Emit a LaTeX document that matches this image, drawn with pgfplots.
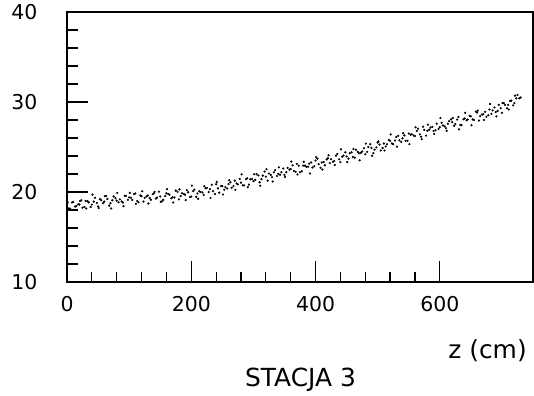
\documentclass[border=0pt]{standalone}
\usepackage{fontspec}
\setmainfont{DejaVu Sans}
\usepackage{pgfplots}
\pgfplotsset{compat=1.18}
\begin{document}
\begin{tikzpicture}
\useasboundingbox (0,0) rectangle (534bp,396bp);
\begin{axis}[
  at={(67bp,114bp)}, anchor=south west,
  scale only axis, width=466bp, height=270bp,
  xmin=0, xmax=750, ymin=10, ymax=40,
  xtick={0,200,400,600}, minor x tick num=4,
  ytick={10,20,30,40}, minor y tick num=4,
  xtick pos=bottom, ytick pos=left, tick align=inside,
  major tick length=21bp, minor tick length=10.5bp,
  axis line style={line width=1.3bp},
  every tick/.style={black, line width=1.2bp},
  every minor tick/.style={black, line width=1.2bp},
  /pgf/number format/assume math mode=true,
  tick label style={font=\fontsize{20.5}{24}\selectfont, inner sep=0pt},
  yticklabel style={anchor=east, xshift=-29.5bp},
  xticklabel style={anchor=north, yshift=-14.5bp},
  clip=false,
]
\addplot[only marks, mark=*, mark size=0.9bp, black, mark options={draw=none, fill=black}] coordinates {
(0,18.60) (5,18.15) (10,18.90) (15,18.45) (20,18.60) (25,18.25) (30,19.00) (35,18.85) (40,18.60) (45,19.35)
(50,18.40) (55,19.09) (60,18.93) (65,19.22) (70,18.76) (75,19.50) (80,19.04) (85,19.18) (90,18.82) (95,19.56)
(100,19.40) (105,19.12) (110,19.84) (115,18.86) (120,19.53) (125,19.35) (130,19.62) (135,19.14) (140,19.86) (145,19.38)
(150,19.50) (155,19.13) (160,19.86) (165,19.69) (170,19.42) (175,20.15) (180,19.18) (185,19.86) (190,19.69) (195,19.97)
(200,19.50) (205,20.27) (210,19.84) (215,20.01) (220,19.68) (225,20.45) (230,20.32) (235,20.09) (240,20.86) (245,19.93)
(250,20.65) (255,20.54) (260,20.88) (265,20.47) (270,21.26) (275,20.85) (280,21.04) (285,20.73) (290,21.52) (295,21.41)
(300,21.20) (305,21.99) (310,21.08) (315,21.82) (320,21.71) (325,22.05) (330,21.64) (335,22.43) (340,22.02) (345,22.21)
(350,21.90) (355,22.68) (360,22.56) (365,22.34) (370,23.12) (375,22.20) (380,22.93) (385,22.81) (390,23.14) (395,22.72)
(400,23.50) (405,23.09) (410,23.28) (415,22.97) (420,23.76) (425,23.65) (430,23.44) (435,24.23) (440,23.32) (445,24.06)
(450,23.95) (455,24.30) (460,23.90) (465,24.70) (470,24.30) (475,24.50) (480,24.20) (485,25.00) (490,24.90) (495,24.70)
(500,25.50) (505,24.62) (510,25.39) (515,25.31) (520,25.68) (525,25.30) (530,26.12) (535,25.74) (540,25.96) (545,25.68)
(550,26.50) (555,26.41) (560,26.22) (565,27.03) (570,26.14) (575,26.90) (580,26.81) (585,27.17) (590,26.78) (595,27.59)
(600,27.20) (605,27.39) (610,27.08) (615,27.87) (620,27.76) (625,27.55) (630,28.34) (635,27.43) (640,28.17) (645,28.06)
(650,28.40) (655,28.01) (660,28.82) (665,28.43) (670,28.64) (675,28.35) (680,29.16) (685,29.07) (690,28.88) (695,29.69)
(700,28.80) (705,29.67) (710,29.68) (715,30.15) (720,29.87) (725,30.78) (730,30.50)
(3,18.18) (8,18.83) (13,18.38) (18,18.63) (23,19.08) (28,18.33) (33,18.98) (38,18.33) (43,18.93) (48,18.78)
(53,19.22) (58,18.76) (63,19.55) (68,18.49) (73,19.08) (78,19.32) (83,18.86) (88,18.95) (93,19.59) (98,19.13)
(103,19.36) (108,19.78) (113,19.00) (118,19.62) (123,18.94) (128,19.51) (133,19.33) (138,19.75) (143,19.27) (148,20.04)
(153,18.97) (158,19.55) (163,19.78) (168,19.31) (173,19.39) (178,20.02) (183,19.55) (188,19.78) (193,20.21) (198,19.44)
(203,20.09) (208,19.46) (213,20.08) (218,19.95) (223,20.42) (228,19.99) (233,20.81) (238,19.78) (243,20.40) (248,20.67)
(253,20.25) (258,20.39) (263,21.08) (268,20.67) (273,20.96) (278,21.45) (283,20.74) (288,21.43) (293,20.82) (298,21.46)
(303,21.35) (308,21.84) (313,21.43) (318,22.27) (323,21.26) (328,21.90) (333,22.19) (338,21.78) (343,21.92) (348,22.61)
(353,22.20) (358,22.48) (363,22.96) (368,22.24) (373,22.92) (378,22.30) (383,22.93) (388,22.81) (393,23.29) (398,22.87)
(403,23.70) (408,22.69) (413,23.33) (418,23.62) (423,23.21) (428,23.35) (433,24.04) (438,23.63) (443,23.92) (448,24.41)
(453,23.71) (458,24.41) (463,23.81) (468,24.46) (473,24.36) (478,24.86) (483,24.46) (488,25.31) (493,24.31) (498,24.96)
(503,25.27) (508,24.89) (513,25.06) (518,25.78) (523,25.40) (528,25.72) (533,26.24) (538,25.56) (543,26.28) (548,25.70)
(553,26.37) (558,26.28) (563,26.79) (568,26.40) (573,27.26) (578,26.27) (583,26.93) (588,27.24) (593,26.85) (598,27.01)
(603,27.70) (608,27.29) (613,27.58) (618,28.07) (623,27.36) (628,28.05) (633,27.44) (638,28.08) (643,27.97) (648,28.46)
(653,28.07) (658,28.93) (663,27.94) (668,28.60) (673,28.91) (678,28.52) (683,28.68) (688,29.39) (693,29.00) (698,29.31)
(703,29.88) (708,29.30) (713,30.11) (718,29.63) (723,30.40) (728,30.41)
(1,18.86) (11,18.01) (21,19.01) (31,18.16) (41,19.71) (51,18.21) (61,19.54) (71,18.17) (81,19.90) (91,18.43)
(101,19.90) (111,18.69) (121,20.08) (131,18.72) (141,20.01) (151,18.91) (161,20.32) (171,18.83) (181,20.29) (191,19.10)
(201,20.71) (211,19.25) (221,20.64) (231,19.33) (241,21.12) (251,19.72) (261,21.30) (271,20.23) (281,21.96) (291,20.54)
(301,21.97) (311,20.70) (321,22.53) (331,21.16) (341,22.74) (351,21.67) (361,23.38) (371,21.94) (381,23.35) (391,22.06)
(401,23.87) (411,22.50) (421,24.08) (431,23.01) (441,24.74) (451,23.32) (461,24.77) (471,23.52) (481,25.37) (491,24.02)
(501,25.62) (511,24.61) (521,26.40) (531,25.04) (541,26.53) (551,25.32) (561,27.19) (571,25.86) (581,27.48) (591,26.45)
(601,28.22) (611,26.80) (621,28.23) (631,26.96) (641,28.79) (651,27.42) (661,29.04) (671,28.01) (681,29.78) (691,28.40)
(701,29.89) (711,29.17) (721,30.71)
};
\node[anchor=base east, font=\fontsize{25}{30}\selectfont, inner sep=0pt] at ([yshift=-76bp]axis description cs:0.987,0) {z (cm)};
\node[anchor=base, font=\fontsize{25}{30}\selectfont, inner sep=0pt] at ([yshift=-104.5bp]axis description cs:0.501,0) {STACJA 3};
\end{axis}
\end{tikzpicture}
\end{document}
